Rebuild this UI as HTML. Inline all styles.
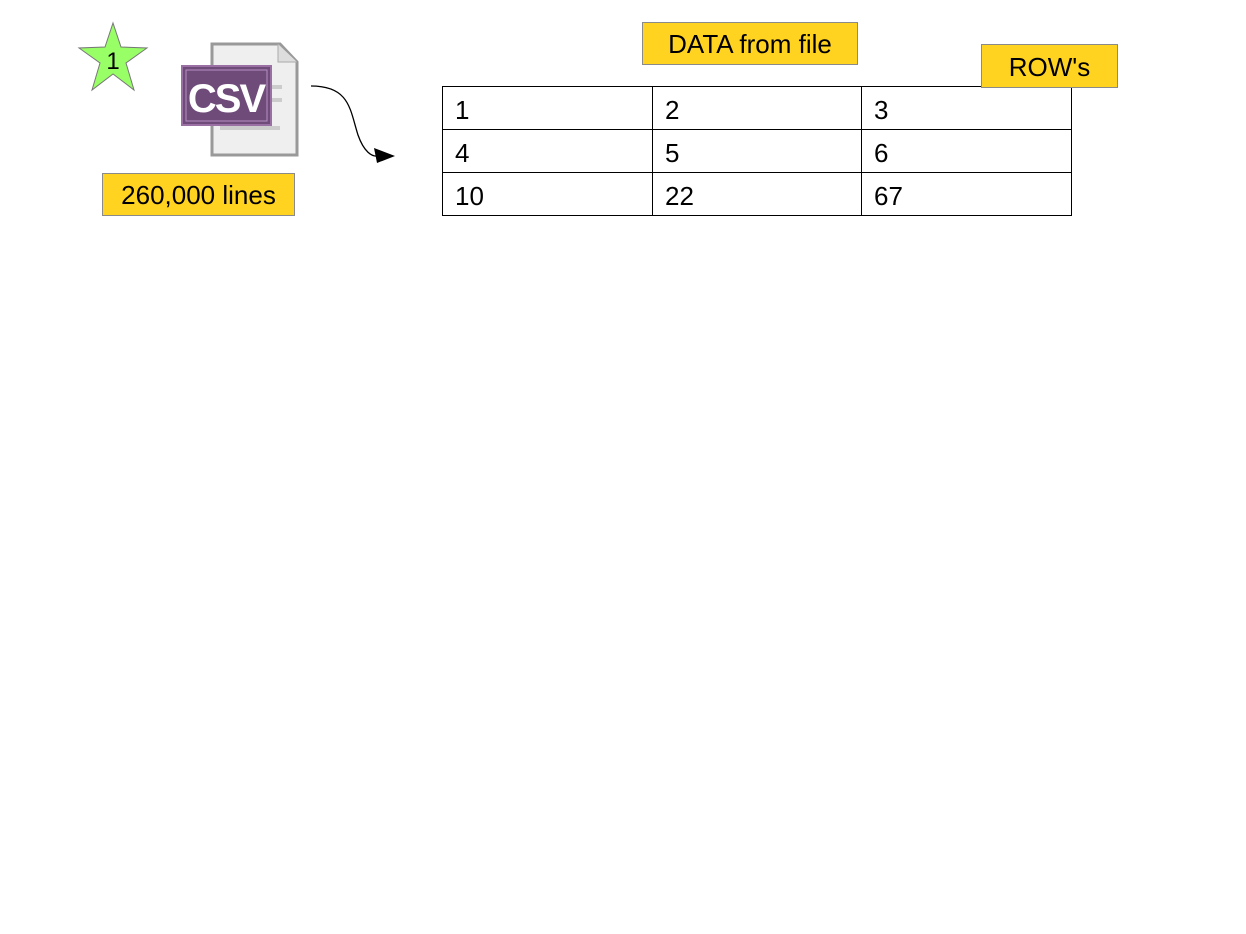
<!DOCTYPE html>
<html><head><style>
body{margin:0;width:1246px;height:934px;background:#fff;position:relative;font-family:"Liberation Sans",sans-serif;overflow:hidden}
.lab{position:absolute;background:#ffd320;border:1px solid #8a8a8a;font-size:26px;color:#000;box-sizing:border-box;display:flex;align-items:center;justify-content:center;padding-top:2px}
table{position:absolute;left:442px;top:86px;border-collapse:collapse;table-layout:fixed;width:629px}
td{border:1px solid #000;height:43px;font-size:26px;padding:4px 0 0 12px;box-sizing:border-box;vertical-align:middle}
</style></head><body>
<svg width="1246" height="934" style="position:absolute;left:0;top:0">
<polygon points="113,23 121,47 147,48 126,63 134,90 113,74 92,90 100,63 79,48 105,47" fill="#99ff66" stroke="#777" stroke-width="1"/>
<text x="113" y="69" font-size="24" text-anchor="middle" font-family="Liberation Sans">1</text>
<path d="M212,44 L280,44 L297,62 L297,155 L212,155 Z" fill="#efefef" stroke="#999" stroke-width="3"/>
<path d="M278,44 L278,62 L297,62" fill="#ddd" stroke="#aaa" stroke-width="1"/>
<rect x="272" y="85" width="10" height="4" fill="#ccc"/><rect x="272" y="98" width="10" height="4" fill="#ccc"/><rect x="220" y="126" width="60" height="4" fill="#ccc"/>
<rect x="182" y="66" width="89" height="59" fill="#6f4b7a" stroke="#9a6fa3" stroke-width="2"/>
<rect x="186" y="70" width="81" height="51" fill="none" stroke="#b48fc0" stroke-width="1"/>
<text x="226" y="112" font-size="40" font-weight="bold" text-anchor="middle" fill="#fff" font-family="Liberation Sans" letter-spacing="-2">CSV</text>
<path d="M311,86 C350,86 350,110 358,135 C364,152 372,157 378,156" fill="none" stroke="#000" stroke-width="1.3"/>
<polygon points="395,156 374,148 377,163" fill="#000"/>
</svg>
<div class="lab" style="left:102px;top:173px;width:193px;height:43px">260,000 lines</div>
<div class="lab" style="left:642px;top:22px;width:216px;height:43px">DATA from file</div>
<table>
<colgroup><col style="width:210px"><col style="width:209px"><col style="width:210px"></colgroup>
<tr><td>1</td><td>2</td><td>3</td></tr>
<tr><td>4</td><td>5</td><td>6</td></tr>
<tr><td>10</td><td>22</td><td>67</td></tr>
</table>
<div class="lab" style="left:981px;top:44px;width:137px;height:44px">ROW's</div>
</body></html>
